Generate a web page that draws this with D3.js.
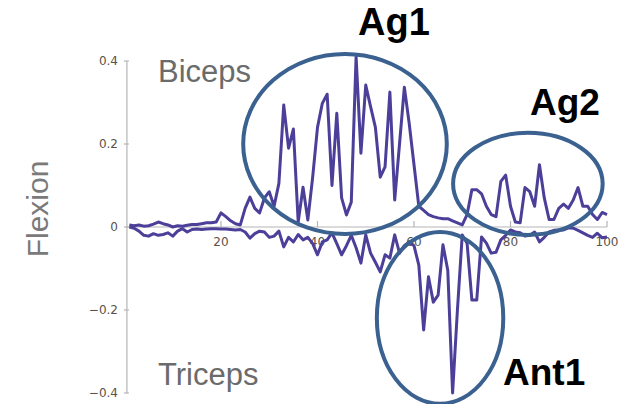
<!DOCTYPE html>
<html>
<head>
<meta charset="utf-8">
<script src="https://cdn.jsdelivr.net/npm/d3@7"></script>
<style>
  body { margin: 0; background: #fff; }
  svg { display: block; }
</style>
</head>
<body>
<svg id="chart" width="623" height="404"></svg>
<script>
// samples 1..100
const biceps = [
  0.005, 0.003, 0.005, 0.002, 0.003, 0.007, 0.012, 0.008, 0.005, 0.0,
  0.003, 0.002, 0.004, 0.006, 0.006, 0.008, 0.01, 0.01, 0.012, 0.034,
  0.025, 0.015, 0.008, 0.005, 0.045, 0.072, 0.045, 0.034, 0.07, 0.085,
  0.05, 0.105, 0.294, 0.19, 0.236, 0.012, 0.096, 0.017, 0.12, 0.24,
  0.298, 0.32, 0.1, 0.274, 0.07, 0.029, 0.06, 0.41, 0.178, 0.342,
  0.29, 0.24, 0.12, 0.145, 0.325, 0.065, 0.2, 0.337, 0.25, 0.15,
  0.05, 0.04, 0.03, 0.025, 0.022, 0.02, 0.02, 0.015, 0.01, 0.005,
  0.03, 0.09, 0.09, 0.08, 0.05, 0.03, 0.025, 0.11, 0.125, 0.05,
  0.012, 0.01, 0.095, 0.085, 0.05, 0.15, 0.07, 0.018, 0.018, 0.045,
  0.055, 0.045, 0.065, 0.095, 0.05, 0.05, 0.03, 0.018, 0.035, 0.03
];
const triceps = [
  0.0, -0.003, -0.01, -0.02, -0.022, -0.016, -0.02, -0.018, -0.014, -0.022,
  -0.01, -0.004, -0.012, -0.006, -0.005, -0.006, -0.005, -0.004, -0.004, -0.005,
  -0.005, -0.006, -0.007, -0.006, -0.012, -0.027, -0.016, -0.01, -0.012, -0.025,
  -0.022, -0.01, -0.048, -0.025, -0.036, -0.018, -0.031, -0.025, -0.04, -0.067,
  -0.036, -0.031, -0.014, -0.04, -0.067, -0.045, -0.02, -0.05, -0.087, -0.019,
  -0.063, -0.085, -0.108, -0.067, -0.075, -0.019, -0.063, -0.045, -0.036, -0.045,
  -0.092, -0.248, -0.12, -0.181, -0.164, -0.043, -0.104, -0.4, -0.2, -0.019,
  -0.039, -0.176, -0.176, -0.024, -0.039, -0.063, -0.061, -0.031, -0.02, -0.007,
  -0.012, -0.014, -0.022, -0.02, -0.012, -0.036, -0.025, -0.012, -0.008, -0.007,
  -0.007, -0.002, -0.003, -0.008, -0.014, -0.02, -0.025, -0.015, -0.026, -0.024
];
const xTicks = [20, 40, 60, 80, 100];
const yTicks = [-0.4, -0.2, 0, 0.2, 0.4];
const yTickLabels = ['\u22120.4', '\u22120.2', '0', '0.2', '0.4'];

// circled regions: [name, cx, cy, rx, ry] in data units
const regions = [
  ['Ag1', 45.7, 0.2, 21.1, 0.217],
  ['Ag2', 83.6, 0.104, 15.5, 0.123],
  ['Ant1', 65.4, -0.219, 13.1, 0.207]
];

const svg = d3.select('#chart');

const x = d3.scaleLinear().domain([0, 100]).range([124.5, 607]);
const y = d3.scaleLinear().domain([-0.4, 0.4]).range([393, 61]);

const axisColor = '#b5b5b5';
const labelColor = '#5a5249';

// y axis
svg.append('line')
  .attr('x1', x(0.5)).attr('x2', x(0.5))
  .attr('y1', y(0.4)).attr('y2', y(-0.4))
  .attr('stroke', axisColor).attr('stroke-width', 1.2);

svg.selectAll('.ytick')
  .data(yTicks)
  .join('line')
  .attr('class', 'ytick')
  .attr('x1', x(0.5) - 3).attr('x2', x(0.5) + 2)
  .attr('y1', d => y(d)).attr('y2', d => y(d))
  .attr('stroke', axisColor).attr('stroke-width', 1.2);

svg.selectAll('.ylab')
  .data(yTicks)
  .join('text')
  .attr('class', 'ylab')
  .attr('x', 118)
  .attr('y', d => y(d))
  .attr('text-anchor', 'end')
  .attr('dominant-baseline', 'central')
  .attr('font-family', 'DejaVu Sans, sans-serif')
  .attr('font-size', 12)
  .attr('fill', labelColor)
  .text((d, i) => yTickLabels[i]);

// x axis along zero
svg.append('line')
  .attr('x1', x(0.5)).attr('x2', x(100))
  .attr('y1', y(0)).attr('y2', y(0))
  .attr('stroke', axisColor).attr('stroke-width', 1.2);

svg.selectAll('.xtick')
  .data(xTicks)
  .join('line')
  .attr('class', 'xtick')
  .attr('x1', d => x(d)).attr('x2', d => x(d))
  .attr('y1', y(0)).attr('y2', y(0) - 6)
  .attr('stroke', axisColor).attr('stroke-width', 1.2);

svg.selectAll('.xlab')
  .data(xTicks)
  .join('text')
  .attr('class', 'xlab')
  .attr('x', d => x(d))
  .attr('y', y(0) + 19)
  .attr('text-anchor', 'middle')
  .attr('font-family', 'DejaVu Sans, sans-serif')
  .attr('font-size', 12)
  .attr('fill', labelColor)
  .text(d => d);

// the two traces
const line = d3.line()
  .x((d, i) => x(i + 1))
  .y(d => y(d));

[triceps, biceps].forEach(series => {
  svg.append('path')
    .datum(series)
    .attr('d', line)
    .attr('fill', 'none')
    .attr('stroke', '#4b3f99')
    .attr('stroke-width', 3)
    .attr('stroke-linejoin', 'round');
});

// ellipses
svg.selectAll('.region')
  .data(regions)
  .join('ellipse')
  .attr('class', 'region')
  .attr('cx', d => x(d[1]))
  .attr('cy', d => y(d[2]))
  .attr('rx', d => x(d[1] + d[3]) - x(d[1]))
  .attr('ry', d => y(d[2] - d[4]) - y(d[2]))
  .attr('fill', 'none')
  .attr('stroke', '#3b6190')
  .attr('stroke-width', 4);

// labels
const font = 'Liberation Sans, Arial, Helvetica, sans-serif';

svg.append('text')
  .attr('x', 158).attr('y', 82)
  .attr('font-family', font).attr('font-size', 31)
  .attr('fill', '#6b6b6b')
  .text('Biceps');

svg.append('text')
  .attr('x', 158).attr('y', 385)
  .attr('font-family', font).attr('font-size', 31)
  .attr('fill', '#6b6b6b')
  .text('Triceps');

svg.append('text')
  .attr('transform', 'translate(48,209) rotate(-90)')
  .attr('text-anchor', 'middle')
  .attr('font-family', font).attr('font-size', 30)
  .attr('fill', '#7a7a7a')
  .text('Flexion');

const tags = [['Ag1', 358, 35, 38], ['Ag2', 530, 115, 37], ['Ant1', 503, 385, 37]];
svg.selectAll('.tag')
  .data(tags)
  .join('text')
  .attr('class', 'tag')
  .attr('x', d => d[1])
  .attr('y', d => d[2])
  .attr('font-family', font)
  .attr('font-weight', 'bold')
  .attr('font-size', d => d[3])
  .attr('fill', '#000')
  .text(d => d[0]);
</script>
</body>
</html>
